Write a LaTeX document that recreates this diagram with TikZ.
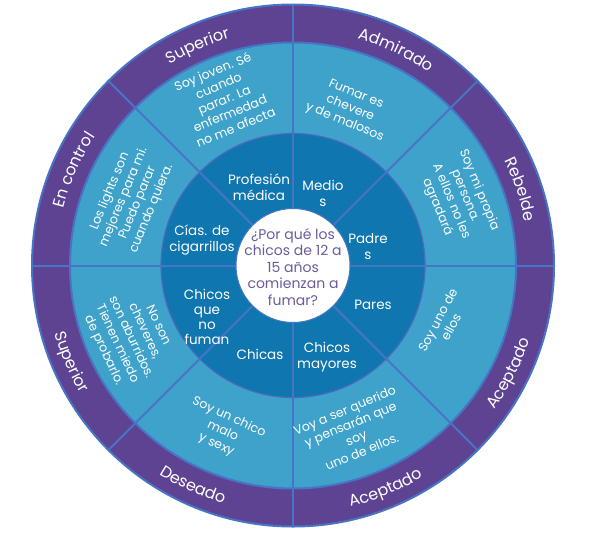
\documentclass[tikz,border=0pt]{standalone}
\usepackage{fontspec}
\setmainfont{Poppins}
\usetikzlibrary{decorations.text,calc}
\definecolor{ringpurple}{HTML}{5F4393}
\definecolor{ringlight}{HTML}{3EA2CB}
\definecolor{ringdark}{HTML}{1076AF}
\definecolor{lineblue}{HTML}{4874C6}
\definecolor{centertext}{HTML}{6A5C9C}
\newcommand\ringlabelfont{\fontsize{16}{16}\selectfont}
\begin{document}
\begin{tikzpicture}[x=1pt,y=1pt,
  innertext/.style={text=white, font=\fontsize{13.5}{16}\selectfont, align=center, inner sep=0pt},
  midtext/.style={text=white, font=\fontsize{12.5}{15}\selectfont, align=center, inner sep=0pt},
  qtext/.style={text=centertext, font=\fontsize{14}{16.5}\selectfont, align=center, inner sep=0pt},
  divider/.style={draw=lineblue, line width=2pt},
  ringline/.style={draw=lineblue, line width=2pt},
  toplabel/.style={decorate, decoration={text along path, text align=center, text color=white, text={|\ringlabelfont|#1}}},
]
\useasboundingbox (0,0) rectangle (592,-539);
\coordinate (C) at (293,-265.5);
% rings
\fill[ringpurple] (C) circle[radius=261];
\fill[ringlight] (C) circle[radius=223];
\fill[ringdark] (C) circle[radius=132];
\draw[ringline] (C) circle[radius=261];
\draw[ringline] (C) circle[radius=223];
\draw[draw=lineblue!80!ringpurple, line width=1.2pt] (C) circle[radius=132];
% dividers
\foreach \a in {0,45,...,315} {
  \draw[divider] ($(C)+(\a:57)$) -- ($(C)+(\a:261)$);
}
% outer labels (top half clockwise, bottom half counterclockwise)
\path[toplabel={Superior}] ($(C)+(136:236)$) arc[start angle=136, end angle=91, radius=236];
\path[toplabel={Admirado}] ($(C)+(87:236)$) arc[start angle=87, end angle=42, radius=236];
\path[toplabel={Rebelde}] ($(C)+(41:236)$) arc[start angle=41, end angle=-4, radius=236];
\path[toplabel={En control}] ($(C)+(179:236)$) arc[start angle=179, end angle=134, radius=236];
\path[toplabel={Aceptado}] ($(C)+(-49:248)$) arc[start angle=-49, end angle=-4, radius=248];
\path[toplabel={Aceptado}] ($(C)+(-90:248)$) arc[start angle=-90, end angle=-45, radius=248];
\path[toplabel={Deseado}] ($(C)+(-137:248)$) arc[start angle=-137, end angle=-92, radius=248];
\path[toplabel={Superior}] ($(C)+(181:248)$) arc[start angle=181, end angle=226, radius=248];
% middle ring texts
\node[midtext, rotate=22.5] (m1) at ($(C)+(112.5:180)$) {Soy joven. Sé\\cuando\\parar. La\\enfermedad\\no me afecta};
\node[midtext, rotate=-22.5] (m2) at ($(C)+(70:167)$) {Fumar es\\chevere\\y de malosos};
\node[midtext, rotate=-67.5] (m3) at ($(C)+(22:178)$) {Soy mi propia\\persona.\\A ellos no les\\agradará};
\node[midtext, rotate=62] (m4) at ($(C)+(-21:162)$) {Soy uno de\\ellos};
\node[midtext, rotate=22.5] (m5) at ($(C)+(-70:176)$) {Voy a ser querido\\y pensarán que\\soy\\uno de ellos.};
\node[midtext, rotate=-25] (m6) at ($(C)+(-113:180)$) {Soy un chico\\malo\\y sexy};
\node[midtext, rotate=-65] (m7) at ($(C)+(204:178)$) {No son\\cheveres,\\son aburridos.\\Tienen miedo\\de probarlo.};
\node[midtext, rotate=67.5] (m8) at ($(C)+(158:175)$) {Los lights son\\mejores para mi.\\Puedo parar\\cuando quiera.};
% inner ring texts
\node[innertext] (i1) at (259,-187) {Profesión\\médica};
\node[innertext] (i2) at (323,-193) {Medio\\s};
\node[innertext] (i3) at (368,-247) {Padre\\s};
\node[innertext] (i4) at (373,-305) {Pares};
\node[innertext] (i5) at (327,-357) {Chicos\\mayores};
\node[innertext] (i6) at (260,-354) {Chicas};
\node[innertext, font=\fontsize{13.5}{15}\selectfont] (i7) at (207,-317) {Chicos\\que\\no\\fuman};
\node[innertext] (i8) at (202,-240) {Cías. de\\cigarrillos};
% center
\fill[white] (C) circle[radius=57];
\draw[lineblue, line width=1pt] (C) circle[radius=57];
\node[qtext] (q) at (293,-267) {¿Por qué los\\chicos de 12 a\\15 años\\comienzan a\\fumar?};
\end{tikzpicture}
\end{document}
